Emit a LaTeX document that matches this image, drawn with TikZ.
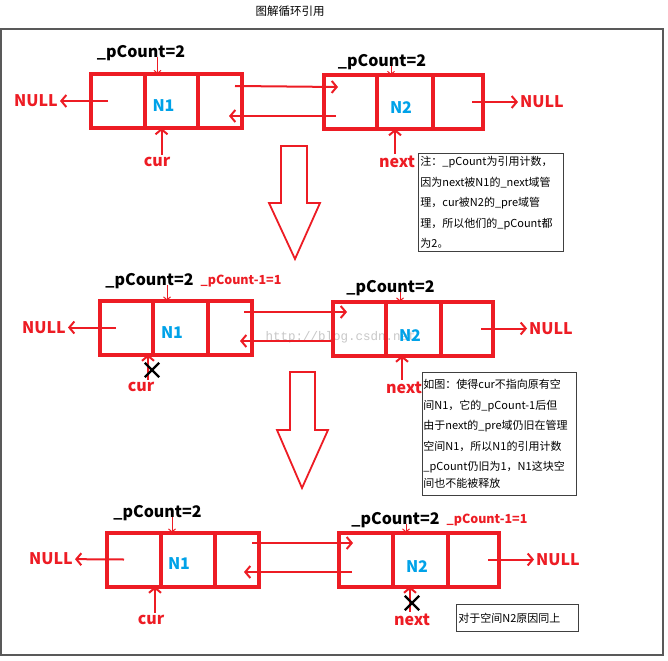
\documentclass[tikz,border=0pt]{standalone}
\usepackage{fontspec}
\setmainfont{Noto Sans CJK SC}
\newfontfamily\wmfont{Liberation Mono}
\usetikzlibrary{positioning, arrows.meta, shapes.misc}
\definecolor{inkred}{RGB}{237,28,36}
\definecolor{inkblue}{RGB}{0,162,232}

\begin{document}
\begin{tikzpicture}[x=1pt, y=-1pt,
    % Stili per le celle
    cell/.style={rectangle, draw=inkred, line width=4pt, minimum height=54pt, inner sep=0pt, outer sep=0pt},
    nodename/.style={text=inkblue, font=\fontsize{16}{16}\selectfont\bfseries},
    % Stili per le etichette
    countlabel/.style={font=\fontsize{16}{16}\selectfont\bfseries},
    minuslabel/.style={text=inkred, font=\fontsize{12.5}{12.5}\selectfont\bfseries},
    nulllabel/.style={text=inkred, font=\fontsize{16}{16}\selectfont\bfseries, inner sep=2pt},
    ptrlabel/.style={text=inkred, font=\fontsize{16}{16}\selectfont\bfseries, inner sep=2pt},
    % Stili per le frecce
    link/.style={draw=inkred, line width=2pt, -{Straight Barb[length=5pt, width=12pt]}},
    pin/.style={draw=inkred, line width=1pt, -{Straight Barb[length=3pt, width=7pt]}},
    crossmark/.style={cross out, draw=black, line width=2.4pt, minimum size=12pt, inner sep=0pt},
    bigarrow/.style={draw=inkred, line width=1.8pt, fill=white},
    % Stili per le note
    note/.style={draw=black!75, line width=0.8pt, anchor=north west, align=left, font=\fontsize{11}{20.5}\selectfont, inner xsep=2pt, inner ysep=1pt},
    frame/.style={draw=black!65, line width=1.2pt}
]
\useasboundingbox (0,0) rectangle (668,660);

% === CORNICE E TITOLO ===
\draw[frame] (1,29) rectangle (663,655);
\node[font=\fontsize{11.5}{11.5}\selectfont] (title) at (290,11) {图解循环引用};
\node[text=black!22, font=\wmfont\fontsize{12.5}{12.5}\selectfont, anchor=west] (mark) at (262,337) {http://blog.csdn.net};

% === PRIMA RIGA ===
\node[cell, minimum width=54pt] (oneA1) at (118,101) {};
\node[cell, minimum width=53pt, right=0pt of oneA1] (oneA2) {};
\node[cell, minimum width=44pt, right=0pt of oneA2] (oneA3) {};
\node[cell, minimum width=53pt] (oneB1) at (350.5,102) {};
\node[cell, minimum width=56pt, right=0pt of oneB1] (oneB2) {};
\node[cell, minimum width=50pt, right=0pt of oneB2] (oneB3) {};
\node[nodename] (oneN1) at ([xshift=-8pt,yshift=-5pt]oneA2.center) {N1};
\node[nodename] (oneN2) at ([xshift=-4pt,yshift=-6pt]oneB2.center) {N2};

\node[countlabel] (oneCntA) at (141,53) {\_pCount=2};
\node[countlabel] (oneCntB) at (382,62) {\_pCount=2};
\draw[pin] ([xshift=-14pt]oneA2.north |- oneCntA.base) -- ([xshift=-14pt]oneA2.north);
\draw[pin] ([xshift=-14pt]oneB2.north |- oneCntB.base) -- ([xshift=-14pt]oneB2.north);

\node[nulllabel, anchor=east] (oneNullA) at (60,101) {NULL};
\node[nulllabel, anchor=west] (oneNullB) at (518,102) {NULL};
\draw[link] ([xshift=-10pt]oneA1.center) -- (oneNullA);
\draw[link] ([xshift=14pt]oneB3.center) -- (oneNullB);

\draw[link] ([xshift=-7pt,yshift=15pt]oneA3.east) -- ([xshift=14pt,yshift=15pt]oneB1.west);
\draw[link] ([xshift=12pt,yshift=-14pt]oneB1.west) -- ([xshift=-13pt,yshift=-15pt]oneA3.east);

\node[ptrlabel] (oneCur) at (157,162) {cur};
\node[ptrlabel] (oneNext) at (397,162) {next};
\draw[link] ([xshift=-10pt]oneA2.south |- oneCur.north) -- ([xshift=-10pt]oneA2.south);
\draw[link] ([xshift=-10pt]oneB2.south |- oneNext.north) -- ([xshift=-10pt]oneB2.south);

\node[note, text width=141pt, minimum height=98pt] (noteA) at (418,153) {注：\_pCount为引用计数，\\因为next被N1的\_next域管\\理，cur被N2的\_pre域管\\理，所以他们的\_pCount都\\为2。};

% freccia grande 1
\draw[bigarrow] (281,146) -- (307,146) -- (307,203) -- (320,203) -- (295,259) -- (269,203) -- (281,203) -- cycle;

% === SECONDA RIGA ===
\node[cell, minimum width=53pt] (twoA1) at (126.5,327.5) {};
\node[cell, minimum width=55pt, right=0pt of twoA1] (twoA2) {};
\node[cell, minimum width=44pt, right=0pt of twoA2] (twoA3) {};
\node[cell, minimum width=53pt] (twoB1) at (359.5,328.5) {};
\node[cell, minimum width=55pt, right=0pt of twoB1] (twoB2) {};
\node[cell, minimum width=52pt, right=0pt of twoB2] (twoB3) {};
\node[nodename] (twoN1) at ([xshift=-8.5pt,yshift=-5pt]twoA2.center) {N1};
\node[nodename] (twoN2) at ([xshift=-3.5pt,yshift=-7pt]twoB2.center) {N2};

\node[countlabel] (twoCntA) at (149.5,281) {\_pCount=2};
\node[minuslabel, right=0pt of twoCntA] (twoMinus) {\_pCount-1=1};
\node[countlabel] (twoCntB) at (390.5,288) {\_pCount=2};
\draw[pin] ([xshift=-13.5pt]twoA2.north |- twoCntA.base) -- ([xshift=-13.5pt]twoA2.north);
\draw[pin] ([xshift=-13.5pt]twoB2.north |- twoCntB.base) -- ([xshift=-13.5pt]twoB2.north);

\node[nulllabel, anchor=east] (twoNullA) at (68,327.5) {NULL};
\node[nulllabel, anchor=west] (twoNullB) at (527,328.5) {NULL};
\draw[link] ([xshift=-10.5pt]twoA1.center) -- (twoNullA);
\draw[link] ([xshift=14pt]twoB3.center) -- (twoNullB);

\draw[link] ([xshift=-8pt,yshift=15.5pt]twoA3.east) -- ([xshift=14pt,yshift=16.5pt]twoB1.west);
\draw[link] ([xshift=0pt,yshift=-12.5pt]twoB1.west) -- ([xshift=-12pt,yshift=-13.5pt]twoA3.east);

\node[ptrlabel] (twoCur) at (141,387) {cur};
\node[ptrlabel] (twoNext) at (404,388) {next};
\draw[link] ([xshift=-5pt]twoA2.south west |- twoCur.north) -- ([xshift=-5pt]twoA2.south west);
\draw[link] ([xshift=-11.5pt]twoB2.south |- twoNext.north) -- ([xshift=-11.5pt]twoB2.south);
\node[crossmark] (cutA) at (152,370) {};

\node[note, text width=152pt, minimum height=123pt, inner xsep=1pt] (noteB) at (422,372) {如图：使得cur不指向原有空\\间N1，它的\_pCount-1后但\\由于next的\_pre域仍旧在管理\\空间N1，所以N1的引用计数\\\_pCount仍旧为1，N1这块空\\[-4pt]间也不能被释放};

% freccia grande 2
\draw[bigarrow] (290,372) -- (315,372) -- (315,430) -- (328,430) -- (302,488) -- (277,430) -- (290,430) -- cycle;

% === TERZA RIGA ===
\node[cell, minimum width=54pt] (threeA1) at (134,559.5) {};
\node[cell, minimum width=54pt, right=0pt of threeA1] (threeA2) {};
\node[cell, minimum width=44pt, right=0pt of threeA2] (threeA3) {};
\node[cell, minimum width=54pt] (threeB1) at (366,559.5) {};
\node[cell, minimum width=55pt, right=0pt of threeB1] (threeB2) {};
\node[cell, minimum width=51pt, right=0pt of threeB2] (threeB3) {};
\node[nodename] (threeN1) at ([xshift=-9pt,yshift=-4.5pt]threeA2.center) {N1};
\node[nodename] (threeN2) at ([xshift=-3.5pt,yshift=-7.5pt]threeB2.center) {N2};

\node[countlabel] (threeCntA) at (157.5,513) {\_pCount=2};
\node[countlabel] (threeCntB) at (395.5,520) {\_pCount=2};
\node[minuslabel, right=0pt of threeCntB] (threeMinus) {\_pCount-1=1};
\draw[pin] ([xshift=-16pt]threeA2.north |- threeCntA.base) -- ([xshift=-16pt]threeA2.north);
\draw[pin] ([xshift=-14.5pt]threeB2.north |- threeCntB.base) -- ([xshift=-14.5pt]threeB2.north);

\node[nulllabel, anchor=east] (threeNullA) at (75,559) {NULL};
\node[nulllabel, anchor=west] (threeNullB) at (534,559.5) {NULL};
\draw[link] ([xshift=-10pt]threeA1.center) -- (threeNullA);
\draw[link] ([xshift=14.5pt]threeB3.center) -- (threeNullB);

\draw[link] ([xshift=-7pt,yshift=16.5pt]threeA3.east) -- ([xshift=14pt,yshift=16.5pt]threeB1.west);
\draw[link] ([xshift=13pt,yshift=-12.5pt]threeB1.west) -- ([xshift=-15pt,yshift=-12.5pt]threeA3.east);

\node[ptrlabel] (threeCur) at (151,620) {cur};
\node[ptrlabel] (threeNext) at (412,620) {next};
\draw[link] ([xshift=-6pt]threeA2.south west |- threeCur.north) -- ([xshift=-6pt]threeA2.south west);
\draw[link] ([xshift=-10.5pt]threeB2.south |- threeNext.north) -- ([xshift=-10.5pt]threeB2.south);
\node[crossmark] (cutB) at (412,603) {};

\node[note, text width=118pt, minimum height=27pt] (noteC) at (456,604) {对于空间N2原因同上};

\end{tikzpicture}
\end{document}
